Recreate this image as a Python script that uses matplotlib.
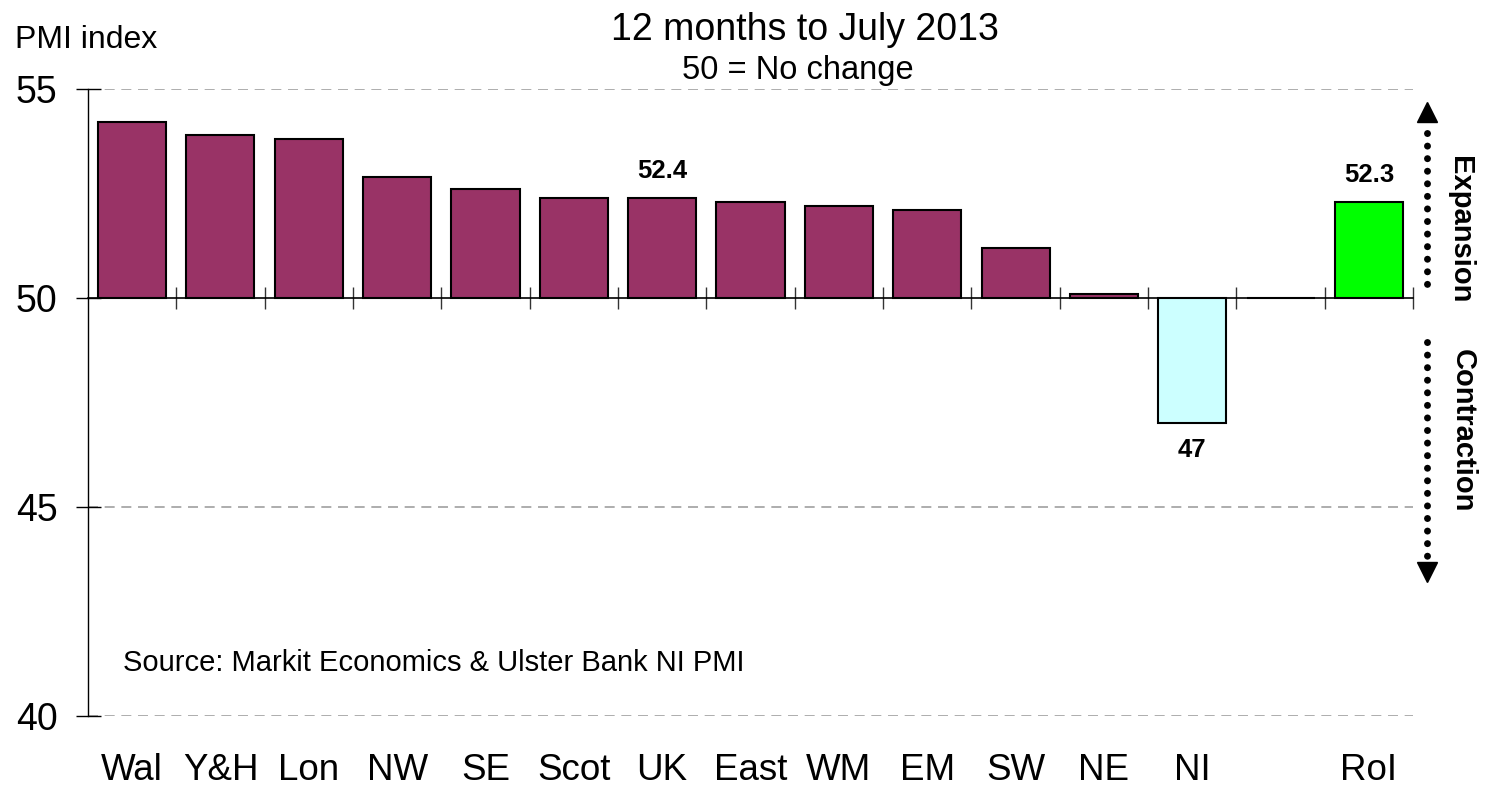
import numpy as np
import matplotlib
matplotlib.use("Agg")
import matplotlib.pyplot as plt

plt.rcParams['font.family'] = ['Liberation Sans', 'DejaVu Sans']

# data
regions = ['Wal', 'Y&H', 'Lon', 'NW', 'SE', 'Scot', 'UK', 'East', 'WM', 'EM', 'SW', 'NE', 'NI', '', 'RoI']
pmi = [54.2, 53.9, 53.8, 52.9, 52.6, 52.4, 52.4, 52.3, 52.2, 52.1, 51.2, 50.1, 47.0, np.nan, 52.3]
colours = ['#993366'] * 12 + ['#CCFFFF', 'white', '#00FF00']
labelled = {'UK': '52.4', 'NI': '47', 'RoI': '52.3'}

base = 50
x = np.arange(len(regions))

fig = plt.figure(figsize=(14.86, 7.85), dpi=100)
ax = fig.add_axes([0.0592, 0.0879, 0.8917, 0.7987])

vals = np.array(pmi)
heights = np.where(np.isnan(vals), 0, vals - base)
ax.bar(x, heights, bottom=base, width=0.77, color=colours, edgecolor='black',
       linewidth=1.5, zorder=3)

ax.set_xlim(-0.5, len(regions) - 0.5)
ax.set_ylim(40, 55)

# grid
for g in [40, 45, 55]:
    ax.axhline(g, color='#a0a0a0', lw=1.2, linestyle=(0, (6, 4)), zorder=1)

# spines
for s in ['top', 'right']:
    ax.spines[s].set_visible(False)
ax.spines['bottom'].set_position(('data', base))
ax.spines['bottom'].set_linewidth(1.2)
ax.spines['bottom'].set_zorder(4)
ax.spines['left'].set_linewidth(1.0)

ax.set_yticks([40, 45, 50, 55])
ax.tick_params(axis='y', direction='inout', length=18, width=1.0, pad=13, labelsize=27)
ax.set_xticks(np.arange(len(regions)) + 0.5)
ax.set_xticklabels([])
ax.tick_params(axis='x', direction='inout', length=16, width=1.0, color='#333333')

# category labels
for xi, r in zip(x, regions):
    ax.text(xi, 38.7, r, ha='center', va='center', fontsize=26.5, clip_on=False)

# value labels
for xi, r, v in zip(x, regions, pmi):
    if r in labelled:
        if v >= base:
            ax.text(xi, v + 0.36, labelled[r], ha='center', va='bottom',
                    fontsize=18.5, fontweight='bold')
        else:
            ax.text(xi, v - 0.35, labelled[r], ha='center', va='top',
                    fontsize=18.5, fontweight='bold')

# texts
fig.text(0.010, 0.949, 'PMI index', fontsize=23, ha='left', va='center')
fig.text(0.542, 0.962, '12 months to July 2013', fontsize=27, ha='center', va='center')
fig.text(0.537, 0.910, '50 = No change', fontsize=23.5, ha='center', va='center')
ax.text(-0.1, 41.27, 'Source: Markit Economics & Ulster Bank NI PMI', fontsize=21,
        ha='left', va='center')

# expansion / contraction arrows
ax_x = 14.66
ax.plot([ax_x, ax_x], [53.95, 50.3], color='black', lw=5,
        linestyle=(0, (0.01, 1.8)), dash_capstyle='round', clip_on=False)
ax.plot([ax_x, ax_x], [48.95, 43.6], color='black', lw=5,
        linestyle=(0, (0.01, 1.8)), dash_capstyle='round', clip_on=False)
ax.plot([ax_x], [54.45], marker='^', color='black', markersize=14, clip_on=False)
ax.plot([ax_x], [43.45], marker='v', color='black', markersize=14, clip_on=False)
ax.text(15.03, 51.63, 'Expansion', rotation=-90, fontsize=21, fontweight='bold',
        ha='center', va='center', clip_on=False)
ax.text(15.06, 46.82, 'Contraction', rotation=-90, fontsize=21, fontweight='bold',
        ha='center', va='center', clip_on=False)

fig.savefig('out.png', dpi=100)
